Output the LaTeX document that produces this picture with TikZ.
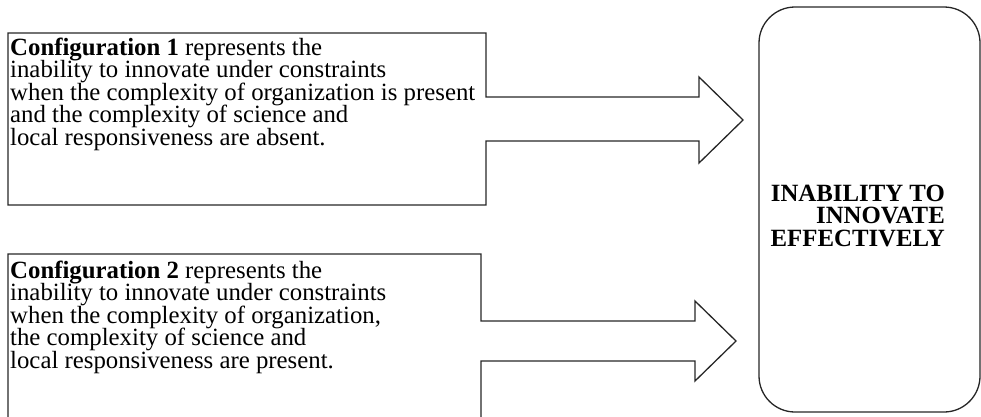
\documentclass[tikz,border=0pt]{standalone}
\usepackage{fontspec}
\setmainfont{Liberation Serif}
\newcommand{\tightlines}{\lineskiplimit=-20pt\relax}
\begin{document}
\begin{tikzpicture}[x=1pt,y=-1pt,
  outline/.style={draw=black!85,line width=1.3pt,line join=miter},
  bodytext/.style={inner sep=0pt,align=left,font=\fontsize{24.8}{22.5}\selectfont\tightlines},
  goaltext/.style={inner sep=0pt,align=right,font=\bfseries\fontsize{24.8}{22.5}\selectfont\tightlines}]
\useasboundingbox (0,0) rectangle (981,416);
\clip (0,0) rectangle (981,416);
% box 1 with arrow
\draw[outline] (8,33) -- (486,33) -- (486,97) -- (699,97) -- (699,77) -- (743,120)
  -- (699,163) -- (699,141) -- (486,141) -- (486,205) -- (8,205) -- cycle;
% box 2 with arrow
\draw[outline] (8,425) -- (8,254) -- (481,254) -- (481,321) -- (695,321) -- (695,301) -- (736,341)
  -- (695,381) -- (695,361) -- (481,361) -- (481,425);
% goal box
\draw[outline,rounded corners=36pt] (759,7) rectangle (980,412);
\node[bodytext,anchor=base west] (c1) at (10,145) {\textbf{Configuration 1} represents the\\
inability to innovate under constraints\\
when the complexity of organization is present\\
and the complexity of science and\\
local responsiveness are absent.};
\node[bodytext,anchor=base west] (c2) at (10,368) {\textbf{Configuration 2} represents the\\
inability to innovate under constraints\\
when the complexity of organization,\\
the complexity of science and\\
local responsiveness are present.};
\node[goaltext,anchor=base east] (goal) at (945,246) {INABILITY TO\\ INNOVATE\\ EFFECTIVELY};
\end{tikzpicture}
\end{document}
